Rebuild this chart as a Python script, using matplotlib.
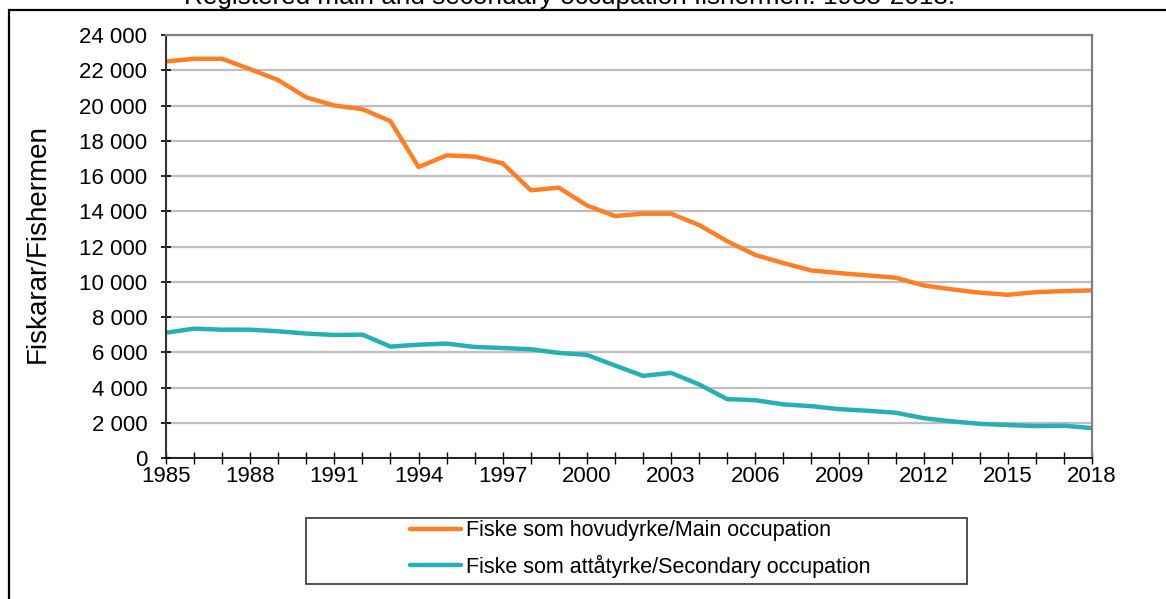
import matplotlib
matplotlib.use('Agg')
import matplotlib.pyplot as plt
from matplotlib.patches import Rectangle
from matplotlib.ticker import FuncFormatter, MultipleLocator, FixedLocator

plt.rcParams['font.family'] = ['Liberation Sans', 'DejaVu Sans']

# Data
years = list(range(1985, 2019))
hovudyrke = [22500, 22650, 22650, 22060, 21440, 20460, 20000, 19790, 19110, 16510,
             17170, 17100, 16720, 15190, 15340, 14330, 13730, 13860, 13860, 13220,
             12300, 11520, 11060, 10640, 10490, 10360, 10230, 9790, 9570, 9380,
             9260, 9410, 9470, 9510]
attatyrke = [7110, 7340, 7280, 7280, 7190, 7060, 6980, 7000, 6320, 6430,
             6490, 6300, 6240, 6170, 5960, 5850, 5250, 4660, 4830, 4170,
             3340, 3280, 3040, 2940, 2770, 2680, 2570, 2260, 2080, 1940,
             1870, 1810, 1830, 1700]
x_labels = list(range(1985, 2019, 3))

tittel = 'Registered main and secondary occupation fishermen. 1985-2018.'
label_hovud = 'Fiske som hovudyrke/Main occupation'
label_atta = 'Fiske som attåtyrke/Secondary occupation'

W, H = 1166, 599
fig = plt.figure(figsize=(W / 100, H / 100), dpi=100)
ax = fig.add_axes([166 / W, 1 - 458 / H, (1092 - 166) / W, (458 - 35) / H])

ax.plot(years, hovudyrke, color='#ff7f27', lw=3.2, label=label_hovud, solid_capstyle='round')
ax.plot(years, attatyrke, color='#26b0b4', lw=3.2, label=label_atta, solid_capstyle='round')

ax.set_xlim(1985, 2018)
ax.set_ylim(0, 24000)
ax.xaxis.set_major_locator(FixedLocator(x_labels))
ax.xaxis.set_minor_locator(MultipleLocator(1))
ax.yaxis.set_major_locator(MultipleLocator(2000))
ax.yaxis.set_major_formatter(FuncFormatter(lambda v, p: f'{int(v):,}'.replace(',', ' ')))

ax.grid(axis='y', color='#bfbfbf', lw=1.6)
ax.set_axisbelow(True)

for s in ['top', 'right']:
    ax.spines[s].set_color('#808080')
    ax.spines[s].set_linewidth(1.6)
ax.spines['left'].set_color('#333333')
ax.spines['left'].set_linewidth(1.5)
ax.spines['bottom'].set_color('black')
ax.spines['bottom'].set_linewidth(1.2)

ax.tick_params(axis='x', which='both', direction='inout', length=9, width=1, pad=1, labelsize=16)
ax.tick_params(axis='y', direction='inout', length=7, width=1.2, pad=10, labelsize=16)

fig.text(38 / W, 1 - 244 / H, 'Fiskarar/Fishermen', rotation=90, ha='center', va='center', fontsize=20)
fig.text(570 / W, 1 - 4 / H, tittel, ha='center', va='baseline', fontsize=18.8)

# ytre ramme
fig.patches.append(Rectangle((9 / W, -0.1), 1.1, 1.1 - 10 / H, transform=fig.transFigure,
                             fill=False, ec='black', lw=1.6))
# legend-boks
fig.patches.append(Rectangle((306 / W, 1 - 584 / H), (967 - 306) / W, 66 / H,
                             transform=fig.transFigure, fill=False, ec='#333333', lw=1.2))

fig.legend(loc='center', bbox_to_anchor=(640 / W, 1 - 549 / H), frameon=False, fontsize=15.5,
           handlelength=2.4, handletextpad=0.2, labelspacing=0.6, borderpad=0)

fig.savefig('out.png', dpi=100)
